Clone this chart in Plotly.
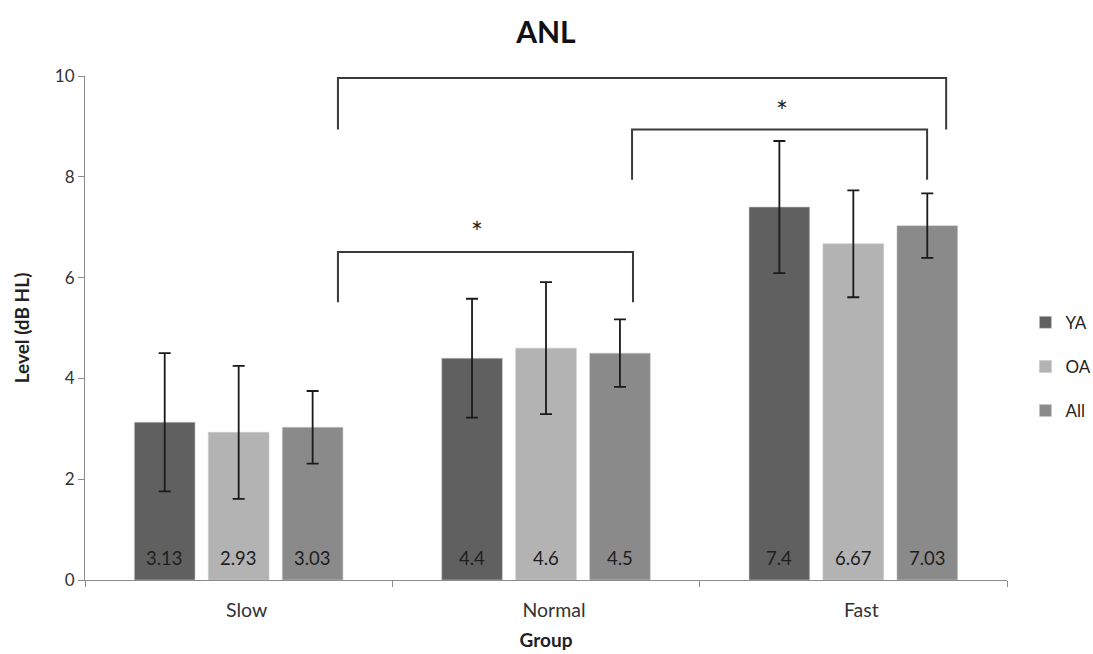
import plotly.graph_objects as go

# ---- data ----
categories = ["Slow", "Normal", "Fast"]
series_names = ["YA", "OA", "All"]
ya_means = [3.13, 4.4, 7.4]
oa_means = [2.93, 4.6, 6.67]
all_means = [3.03, 4.5, 7.03]
ya_err = [1.37, 1.18, 1.31]
oa_err = [1.32, 1.31, 1.06]
all_err = [0.72, 0.67, 0.64]
value_labels_ya = ["3.13", "4.4", "7.4"]
value_labels_oa = ["2.93", "4.6", "6.67"]
value_labels_all = ["3.03", "4.5", "7.03"]
y_ticks = [0, 2, 4, 6, 8, 10]

# significance brackets: (left x, right x, top level, bottom level, star x, star y) in category units
brackets = [
    (0.323, 1.283, 6.51, 5.51, 0.775, 6.90),
    (1.280, 2.240, 8.94, 7.94, 1.767, 9.30),
    (0.323, 2.302, 9.96, 8.94, 1.381, 10.29),
]

colors = ["#606060", "#b3b3b3", "#8a8a8a"]
FONT = "Lato, 'Open Sans', sans-serif"
BARGAP = 0.278
BARGROUPGAP = 0.18

fig = go.Figure()
means = [ya_means, oa_means, all_means]
errs = [ya_err, oa_err, all_err]
labels = [value_labels_ya, value_labels_oa, value_labels_all]
for i, name in enumerate(series_names):
    fig.add_trace(go.Bar(
        x=categories, y=means[i], name=name,
        marker=dict(color=colors[i], line=dict(color="#c8c8c8", width=0.6)),
        error_y=dict(type="data", array=errs[i], visible=True,
                     color="#1a1a1a", thickness=1.8, width=6),
        legendgroup=name,
    ))

# value labels near bar bases
slot = (1 - BARGAP) / 3
for i in range(3):
    for j, cat in enumerate(categories):
        fig.add_annotation(
            x=j + (i - 1) * slot, y=0, xref="x", yref="y",
            text=labels[i][j], showarrow=False, yanchor="bottom",
            yshift=9, font=dict(family=FONT, size=18.5, color="#1e1e1e"))

# brackets and stars
for (x0, x1, ytop, ybot, sx, sy) in brackets:
    fig.add_shape(type="path", xref="x", yref="y",
                  path=f"M {x0} {ybot} L {x0} {ytop} L {x1} {ytop} L {x1} {ybot}",
                  line=dict(color="#3a3a3a", width=2))
    fig.add_annotation(x=sx, y=sy, xref="x", yref="y", text="*",
                       showarrow=False, font=dict(family=FONT, size=28, color="#222222"))

fig.update_layout(
    width=1093, height=654, autosize=False,
    paper_bgcolor="white", plot_bgcolor="white",
    barmode="group", bargap=BARGAP, bargroupgap=BARGROUPGAP,
    margin=dict(l=85, r=86, t=76, b=74, autoexpand=False),
    title=dict(text="<b>ANL</b>", x=0.4995, xanchor="center", y=0.951, yanchor="middle",
               font=dict(family=FONT, size=30, color="#111111")),
    font=dict(family=FONT, color="#333333"),
    legend=dict(x=1.02, xanchor="left", y=0.423, yanchor="middle",
                font=dict(family=FONT, size=17, color="#222222"),
                tracegroupgap=19, itemwidth=30, bgcolor="rgba(0,0,0,0)"),
    showlegend=True,
)
fig.update_xaxes(
    range=[-0.5, 2.5], showline=True, linecolor="#8c8c8c", linewidth=1.2,
    ticks="outside", tickson="boundaries", ticklen=6, tickcolor="#8c8c8c",
    tickfont=dict(family=FONT, size=19.5, color="#333333"),
    title=dict(text="<b>Group</b>", font=dict(family=FONT, size=19, color="#222222"), standoff=14),
    showgrid=False, zeroline=False, ticklabelshift=8, ticklabelstandoff=12, automargin=False,
)
fig.update_yaxes(
    range=[0, 10], tickvals=y_ticks, showline=True, linecolor="#8c8c8c", linewidth=1.2,
    ticks="outside", ticklen=6, tickcolor="#8c8c8c",
    tickfont=dict(family=FONT, size=17, color="#333333"),
    title=dict(text="<b>Level (dB HL)</b>", font=dict(family=FONT, size=19, color="#222222"), standoff=20),
    showgrid=False, zeroline=False, automargin=False,
)

fig.write_html("out.html", config={"displayModeBar": False},
               post_script="document.body.style.margin='0';document.body.style.overflow='hidden';")
